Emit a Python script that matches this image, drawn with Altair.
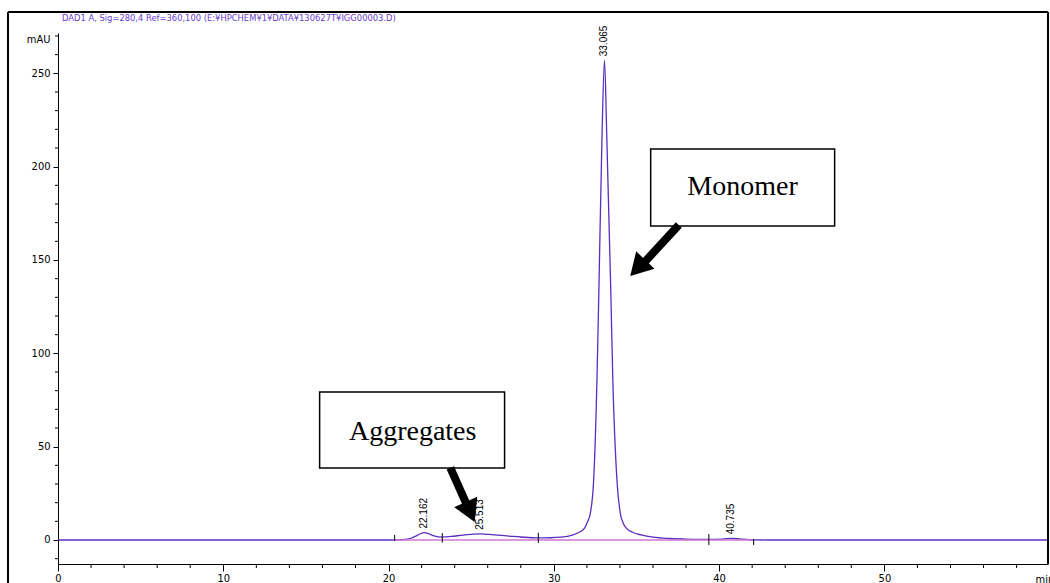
import altair as alt
import pandas as pd

# DAD1 A trace: retention time (min) and absorbance (mAU)
time_min = [0.0, 5.0, 10.0, 15.0, 20.0, 20.5, 21.0, 21.3, 21.6, 21.9, 22.162, 22.45, 22.75,
            23.25, 23.8, 24.5, 25.0, 25.513, 26.0, 26.6, 27.3, 28.0, 29.06, 29.8, 30.4,
            30.9, 31.16, 31.5, 31.86, 32.05, 32.21, 32.41, 32.61, 32.73, 32.91, 33.065,
            33.21, 33.44, 33.57, 33.82, 34.02, 34.2, 34.39, 34.8, 35.29, 36.0, 37.0,
            38.0, 39.38, 40.2, 40.735, 41.3, 42.09, 43.0, 50.0, 59.9]
signal_mau = [0.0, 0.0, 0.0, 0.0, 0.0, 0.1, 0.3, 0.8, 1.9, 3.2, 4.0, 3.3, 2.2,
              1.5, 1.9, 2.6, 3.0, 3.3, 3.0, 2.6, 2.1, 1.6, 1.1, 1.2, 1.5,
              2.1, 2.7, 4.0, 6.4, 10.0, 14.4, 32.0, 85.7, 135.7, 214.0, 257.0,
              214.0, 135.7, 85.7, 32.0, 14.4, 9.0, 6.4, 4.0, 2.7, 1.5, 0.8,
              0.5, 0.3, 0.5, 0.9, 0.5, 0.1, 0.0, 0.0, 0.0]

# Integrated peaks
peak_rt = [22.162, 25.513, 33.065, 40.735]
peak_height = [4.0, 3.3, 257.0, 0.9]
peak_text = ["22.162", "25.513", "33.065", "40.735"]

# Integration start/stop marks
event_rt = [20.37, 23.25, 29.06, 39.38, 42.09]
event_lo = [-0.5, -1.4, -1.6, -2.7, -2.7]
event_hi = [2.7, 3.7, 3.9, 3.2, 0.5]

# Integration baseline
base_rt = [20.37, 42.09]
base_mau = [0.0, 0.0]

# Call-out boxes
box_text = ["Monomer", "Aggregates"]
box_x1 = [35.86, 15.83]
box_x2 = [46.99, 27.02]
box_y1 = [209.5, 79.3]
box_y2 = [168.2, 38.6]
box_tx = [41.42, 21.46]
box_ty = [189.1, 57.9]

# Call-out arrows: shaft start, shaft end, head centre and heading
arrow_x1 = [37.56, 23.74]
arrow_y1 = [168.7, 38.7]
arrow_x2 = [35.40, 24.71]
arrow_y2 = [148.0, 19.4]
head_x = [35.08, 24.94]
head_y = [145.7, 15.0]
head_angle = [223.5, 155.9]

# Axis ticks
x_major = [0, 10, 20, 30, 40, 50]
x_minor = [2, 4, 6, 8, 12, 14, 16, 18, 22, 24, 26, 28, 32, 34, 36, 38,
           42, 44, 46, 48, 52, 54, 56, 58]
y_major = [0, 50, 100, 150, 200, 250]
y_minor = [-10, 10, 20, 30, 40, 60, 70, 80, 90, 110, 120, 130, 140, 160, 170,
           180, 190, 210, 220, 230, 240, 260, 270]

title_text = "DAD1 A, Sig=280,4 Ref=360,100 (E:¥HPCHEM¥1¥DATA¥130627T¥IGG00003.D)"

NARROW = "DejaVu Sans Condensed, Liberation Sans Narrow, sans-serif"
W, H = 990, 531
X_DOM = [0, 59.9]
Y_DOM = [-12.86, 271.6]

trace = pd.DataFrame({"t": time_min, "v": signal_mau})
peaks = pd.DataFrame({"t": peak_rt, "v": peak_height, "txt": peak_text})
events = pd.DataFrame({"t": event_rt, "lo": event_lo, "hi": event_hi})
base = pd.DataFrame({"t": base_rt, "v": base_mau})
boxes = pd.DataFrame({"txt": box_text, "x1": box_x1, "x2": box_x2, "y1": box_y1,
                      "y2": box_y2, "tx": box_tx, "ty": box_ty})
arrows = pd.DataFrame({"x1": arrow_x1, "y1": arrow_y1, "x2": arrow_x2, "y2": arrow_y2,
                       "hx": head_x, "hy": head_y, "ang": head_angle})
xminor_df = pd.DataFrame({"t": x_minor})
yminor_df = pd.DataFrame({"v": y_minor})

x_scale = alt.Scale(domain=X_DOM, nice=False, zero=False)
y_scale = alt.Scale(domain=Y_DOM, nice=False, zero=False)

x_axis = alt.Axis(
    values=x_major, labelOverlap=False, tickSize=7,
    grid=False, domainColor="black", tickColor="black", labelColor="black",
    labelFont=NARROW, labelFontSize=11, labelPadding=1, labelFlush=False,
    title="min", titleFont=NARROW, titleFontSize=11, titleFontWeight="normal",
    titleX=977, titleY=9, titleAlign="left", titleBaseline="top",
)
y_axis = alt.Axis(
    values=y_major, labelOverlap=False, tickSize=5,
    grid=False, domainColor="black", tickColor="black", labelColor="black",
    labelFont=NARROW, labelFontSize=11, labelPadding=3, labelFlush=False,
    title="mAU", titleFont=NARROW, titleFontSize=11, titleFontWeight="normal",
    titleAngle=0, titleX=-8, titleY=6, titleAlign="right", titleBaseline="middle",
)

line = alt.Chart(trace).mark_line(color="#5a2cbf", strokeWidth=1.3, interpolate="monotone").encode(
    x=alt.X("t:Q", scale=x_scale, axis=x_axis),
    y=alt.Y("v:Q", scale=y_scale, axis=y_axis),
)

# Minor ticks on both axes
x_minor_ticks = alt.Chart(xminor_df).mark_rule(color="black", strokeWidth=1).encode(
    x=alt.X("t:Q", scale=x_scale), y=alt.value(H), y2=alt.value(H + 4)
)
y_minor_ticks = alt.Chart(yminor_df).mark_rule(color="black", strokeWidth=1).encode(
    y=alt.Y("v:Q", scale=y_scale), x=alt.value(0), x2=alt.value(-3)
)

baseline = alt.Chart(base).mark_line(color="#d276d2", strokeWidth=1.3).encode(
    x=alt.X("t:Q", scale=x_scale), y=alt.Y("v:Q", scale=y_scale)
)

event_marks = alt.Chart(events).mark_rule(color="black", strokeWidth=1).encode(
    x=alt.X("t:Q", scale=x_scale), y=alt.Y("lo:Q", scale=y_scale), y2="hi:Q"
)

peak_labels = alt.Chart(peaks).mark_text(
    angle=270, align="left", baseline="middle", dx=4, fontSize=10,
    font="Liberation Sans, Arial, sans-serif", color="black"
).encode(x=alt.X("t:Q", scale=x_scale), y=alt.Y("v:Q", scale=y_scale), text="txt:N")

box_rects = alt.Chart(boxes).mark_rect(fill="white", stroke="black", strokeWidth=1.5).encode(
    x=alt.X("x1:Q", scale=x_scale), x2="x2:Q",
    y=alt.Y("y1:Q", scale=y_scale), y2="y2:Q",
)
box_labels = alt.Chart(boxes).mark_text(
    fontSize=28, font="Liberation Serif, Times New Roman, serif", color="black",
    align="center", baseline="middle"
).encode(x=alt.X("tx:Q", scale=x_scale), y=alt.Y("ty:Q", scale=y_scale), text="txt:N")

shafts = alt.Chart(arrows).mark_rule(color="black", strokeWidth=8).encode(
    x=alt.X("x1:Q", scale=x_scale), x2="x2:Q",
    y=alt.Y("y1:Q", scale=y_scale), y2="y2:Q",
)
heads = alt.Chart(arrows).mark_point(shape="triangle-up", filled=True, color="black",
                                     size=640, opacity=1).encode(
    x=alt.X("hx:Q", scale=x_scale), y=alt.Y("hy:Q", scale=y_scale),
    angle=alt.Angle("ang:Q", scale=None),
)

# Outer frame of the report page
frame_top = alt.Chart(trace).mark_rule(color="black", strokeWidth=1).encode(
    x=alt.value(-50), x2=alt.value(W), y=alt.value(-21)
)
frame_left = alt.Chart(trace).mark_rule(color="black", strokeWidth=1).encode(
    x=alt.value(-50), y=alt.value(-21), y2=alt.value(H + 40)
)
frame_right = alt.Chart(trace).mark_rule(color="black", strokeWidth=1).encode(
    x=alt.value(W), y=alt.value(-21), y2=alt.value(H)
)
header = alt.Chart(pd.DataFrame({"s": [title_text]})).mark_text(
    align="left", baseline="middle", fontSize=9.3, font=NARROW, color="#6a3ccf"
).encode(x=alt.value(4), y=alt.value(-15), text="s:N")

chart = alt.layer(
    line, x_minor_ticks, y_minor_ticks, baseline, event_marks, box_rects, box_labels,
    shafts, heads, peak_labels, frame_top, frame_left, frame_right, header,
).properties(
    width=W, height=H,
    autosize=alt.AutoSizeParams(type="none"),
    padding={"left": 58, "top": 33, "right": 2, "bottom": 19},
    background="white",
).configure_view(stroke=None)

chart.save("out.html", embed_options={"renderer": "svg", "actions": False})
